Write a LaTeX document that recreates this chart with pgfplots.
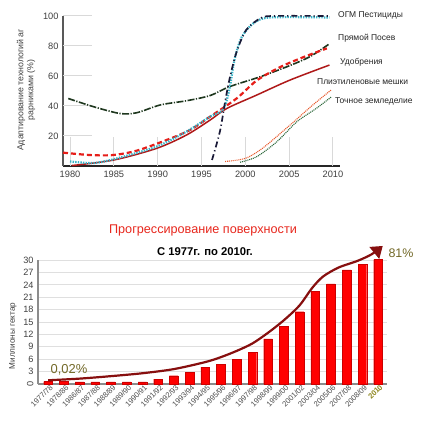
\documentclass[border=0pt]{standalone}
\usepackage{pgfplots}
\pgfplotsset{compat=1.18}
\usepackage{fontspec}
\setmainfont{Liberation Sans}
\usetikzlibrary{arrows.meta}
\definecolor{dgreen}{RGB}{30,55,30}
\definecolor{rdash}{RGB}{230,30,25}
\definecolor{dred}{RGB}{175,25,25}
\definecolor{cyanl}{RGB}{55,180,200}
\definecolor{gmo}{RGB}{25,25,55}
\definecolor{orng}{RGB}{232,90,45}
\definecolor{gdot}{RGB}{40,100,55}
\definecolor{titred}{RGB}{232,40,30}
\definecolor{olivet}{RGB}{115,105,40}
\definecolor{trend}{RGB}{135,15,15}
\begin{document}
\begin{tikzpicture}
\path[fill=white,use as bounding box] (0,0) rectangle (424bp,424bp);
% ---------------- top chart ----------------
\begin{axis}[
  at={(63bp,258bp)}, anchor=south west,
  scale only axis, width=277bp, height=150bp,
  xmin=1979.2, xmax=2010.8, ymin=0, ymax=100,
  axis lines*=left,
  x axis line style={line width=2.2bp, black!85},
  y axis line style={line width=1.6bp, black!65},
  xtick={1980,1985,...,2010}, ytick={20,40,60,80,100},
  major tick length=0pt,
  /pgf/number format/assume math mode=true,
  /pgf/number format/1000 sep={},
  tick label style={font=\fontsize{9.3}{11}\selectfont, text=black!75},
  xticklabel style={yshift=-2bp},
  yticklabel style={xshift=-1bp},
  clip=false,
]
\pgfplotsinvokeforeach{1980,1985,...,2010}{\draw[gray!30, line width=1bp] (axis cs:#1,0) -- (axis cs:#1,19);}
\pgfplotsinvokeforeach{20,40,60,80,100}{\draw[gray!30, line width=1bp] (axis cs:1979.2,#1) -- (axis cs:1982.5,#1);}
% Pryamoy posev
\addplot[dgreen, line width=1.6bp, dash pattern=on 7bp off 1.5bp on 1.2bp off 1.5bp, smooth] coordinates {
 (1979.8,45) (1982.7,39.5) (1985.7,35) (1987.6,35.5) (1990.3,40.7) (1993.3,43.5) (1996,47) (1998.2,52.9) (2001.7,59.5) (2005.1,67) (2007.4,73) (2009.6,81.5)};
% red dashed
\addplot[rdash, line width=2.2bp, dash pattern=on 5bp off 3bp, smooth] coordinates {
 (1979.2,8.9) (1982.3,7.3) (1984.9,7.3) (1987.6,10.2) (1991,17.3) (1993.7,24) (1996,33) (1999,45) (2001.3,57) (2004,66) (2006.6,72.5) (2009.3,78.4)};
% dark red solid
\addplot[dred, line width=1.5bp, smooth] coordinates {
 (1980.2,0.3) (1985,4) (1989.9,11.8) (1993.3,20.7) (1996,30.7) (1997.9,38.4) (2001.3,47.3) (2005.1,57.3) (2009.6,67.3)};
% cyan dotted
\addplot[cyanl, line width=2.2bp, dash pattern=on 1.4bp off 1.2bp, smooth] coordinates {
 (1980,3) (1982.7,2) (1985.3,5) (1989.9,13) (1993.3,23) (1996,33) (1997.5,38) (1998.2,51.8) (1998.8,71.8) (1999.6,86) (2000.9,95) (2002.8,99) (2009.6,99)};
% GMO dash-dot
\addplot[gmo, line width=1.7bp, dash pattern=on 6bp off 3bp on 1.2bp off 3bp, smooth] coordinates {
 (1996.2,4) (1997.1,23) (1997.7,43) (1998.2,58) (1999,76) (2000.1,90.7) (2001.7,98.4) (2003.1,100) (2009.6,100)};
% orange dotted
\addplot[orng, line width=1.1bp, dash pattern=on 1bp off 0.9bp, smooth] coordinates {
 (1997.7,3) (2000,5.1) (2002,12) (2005.1,27.3) (2007.7,40.7) (2009.8,50.7)};
% green dotted
\addplot[gdot, line width=1.1bp, dash pattern=on 1bp off 0.9bp, smooth] coordinates {
 (1999.4,2.5) (2001.3,6.2) (2003.6,16.2) (2005.9,29.6) (2008.1,38.4) (2009.8,46)};
\end{axis}
\begin{scope}[every node/.style={font=\fontsize{8.5}{10}\selectfont, text=black!85, anchor=west, inner sep=0pt}]
\node at (338bp,409bp) {ОГМ Пестициды};
\node at (338bp,386bp) {Прямой Посев};
\node at (340bp,362bp) {Удобрения};
\node at (317bp,342bp) {Плиэтиленовые мешки};
\node at (335bp,323bp) {Точное земледелие};
\end{scope}
\node[rotate=90, align=center, font=\fontsize{8.8}{10}\selectfont, text=black!75] at (26bp,334bp) {Адаптирование технологий аг\\рарниками (\%)};
% ---------------- bottom chart ----------------
\node[font=\fontsize{12.7}{14}\selectfont, text=titred] at (203bp,194bp) {Прогрессирование поверхности};
\node[font=\bfseries\fontsize{11.3}{13}\selectfont] at (205bp,172bp) {С 1977г. по 2010г.};
\begin{axis}[
  at={(38bp,40bp)}, anchor=south west,
  scale only axis, width=349bp, height=124bp,
  xmin=-0.64, xmax=21.57, ymin=0, ymax=30,
  axis lines*=left,
  axis line style={line width=1.8bp, black!45},
  ymajorgrids, grid style={line width=1bp, gray!25},
  ytick={0,3,...,30},
  yticklabels={\rotatebox{90}{0},3,6,9,12,15,18,21,24,27,30},
  xtick={0,...,21},
  xticklabels={1977/78,1978/86,1986/87,1987/88,1988/89,1989/90,1990/91,1991/92,1992/93,1993/94,1994/95,1995/96,1996/97,1997/98,1998/99,1999/00,2001/02,2003/04,2005/06,2007/08,2008/09,\textcolor{olivet!80!yellow}{\textbf{2010}}},
  major tick length=0pt,
  /pgf/number format/assume math mode=true,
  yticklabel style={font=\fontsize{9.2}{10}\selectfont, text=black!75, xshift=-1bp},
  xticklabel style={font=\fontsize{7.6}{8}\selectfont, text=black!70, rotate=45, anchor=north east, inner sep=1bp, xshift=2bp},
  clip=false,
]
\addplot[ybar, bar width=0.55, fill=red, draw=red!80!black, line width=0.3bp] coordinates {
 (0,0.6) (1,0.6) (2,0.5) (3,0.5) (4,0.5) (5,0.5) (6,0.5) (7,1.2) (8,2.0) (9,2.9) (10,4.1) (11,4.8) (12,6.0) (13,7.7) (14,10.9) (15,14.0) (16,17.5) (17,22.4) (18,24.2) (19,27.6) (20,28.9) (21,30.1)};
\addplot[trend, line width=2.2bp, smooth, -{Triangle[length=11bp,width=15bp]}] coordinates {
 (0,0.9) (2,1.3) (4,1.9) (6,2.6) (8,3.6) (10,5.3) (11,6.5) (12,8) (13,9.8) (14,12.4) (15,15.4) (16,19) (16.8,23.2) (17.5,26) (18.5,28.2) (19.7,29.8) (20.6,31.4) (21.3,33.4)};
\end{axis}
\node[rotate=90, font=\fontsize{8.2}{9}\selectfont, text=black!75] at (13bp,88bp) {Миллионы гектар};
\node[font=\fontsize{13}{15}\selectfont, text=olivet] at (69bp,54bp) {0,02\%};
\node[font=\fontsize{12.5}{14}\selectfont, text=olivet] at (401bp,171bp) {81\%};
\end{tikzpicture}
\end{document}
